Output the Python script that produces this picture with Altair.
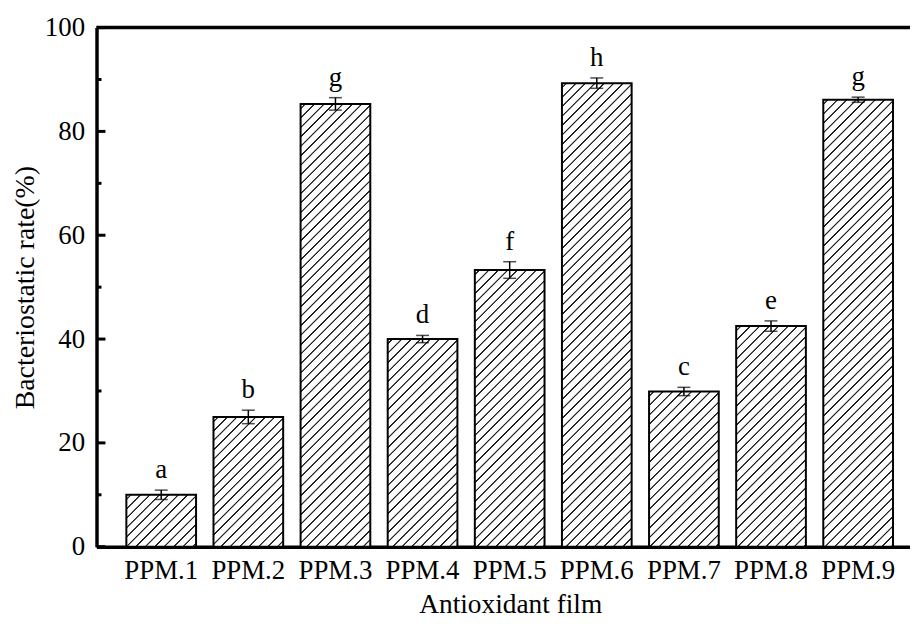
import altair as alt
import pandas as pd

# ---- data ----
films = ["PPM.1", "PPM.2", "PPM.3", "PPM.4", "PPM.5", "PPM.6", "PPM.7", "PPM.8", "PPM.9"]
rates = [10.0, 25.0, 85.3, 40.0, 53.3, 89.3, 29.9, 42.5, 86.1]
errors = [0.9, 1.3, 1.2, 0.7, 1.6, 1.0, 0.8, 1.0, 0.5]
letters = ["a", "b", "g", "d", "f", "h", "c", "e", "g"]
major_ticks = [0, 20, 40, 60, 80, 100]
minor_ticks = [10, 30, 50, 70, 90]

# ---- layout / style ----
FONT = "Liberation Serif"
W, H = 818, 522
PAD_IN, PAD_OUT, ALIGN = 0.2, 0.269, 0.637
STEP = W / (len(films) - PAD_IN + 2 * PAD_OUT)
BAR_W = STEP * (1 - PAD_IN)

df = pd.DataFrame({"film": films, "rate": rates, "err": errors, "letter": letters})
df["lo"] = df["rate"] - df["err"]
df["hi"] = df["rate"] + df["err"]

xscale = alt.Scale(domain=films, paddingInner=PAD_IN, paddingOuter=PAD_OUT,
                   align=ALIGN, round=False)
yscale = alt.Scale(domain=[0, 100], nice=False, zero=True)

xaxis = alt.Axis(title="Antioxidant film", labelAngle=0, ticks=False, tickSize=0,
                 domainWidth=3.5, domainColor="black", grid=False,
                 labelFont=FONT, labelFontSize=27, labelColor="black",
                 labelPadding=32, labelBaseline="alphabetic",
                 titleFont=FONT, titleFontSize=27.5, titleFontWeight="normal",
                 titleColor="black", titleX=416, titleY=66,
                 titleBaseline="alphabetic", titleAlign="center")
yaxis = alt.Axis(title="Bacteriostatic rate(%)", values=major_ticks, ticks=False,
                 tickSize=0, domainWidth=3.5, domainColor="black", grid=False,
                 labelFont=FONT, labelFontSize=27, labelColor="black",
                 labelPadding=12,
                 titleFont=FONT, titleFontSize=28, titleFontWeight="normal",
                 titleColor="black", titleAngle=270, titleX=-63, titleY=H / 2,
                 titleBaseline="alphabetic", titleAlign="center")


def xenc():
    return alt.X("film:N", sort=films, scale=xscale, axis=xaxis)


def yenc(field="rate"):
    return alt.Y(f"{field}:Q", scale=yscale, axis=yaxis)


def hatch(h_px, w_px, spacing=9.5, half=0.6, soft=0.6, ink="#222222"):
    """Diagonal '/' hatch as a linear gradient (bounding-box units)."""
    L = w_px + h_px
    k = L / (w_px ** 2 + h_px ** 2)
    stops = [(0.0, "#ffffff")]
    c = spacing / 2
    while c - half - soft < L:
        for off, col in [(c - half - soft, "#ffffff"), (c - half, ink),
                         (c + half, ink), (c + half + soft, "#ffffff")]:
            o = min(max(off / L, 0.0), 1.0)
            o = max(o, stops[-1][0])
            stops.append((round(o, 6), col))
        c += spacing
    stops.append((1.0, "#ffffff"))
    return alt.LinearGradient(
        gradient="linear",
        stops=[alt.GradientStop(offset=o, color=col) for o, col in stops],
        x1=0, y1=0, x2=k * w_px, y2=k * h_px)


layers = []
for f, r in zip(films, rates):
    layers.append(
        alt.Chart(df).transform_filter(alt.datum.film == f)
        .mark_bar(fill=hatch(r * H / 100.0, BAR_W), stroke="black", strokeWidth=2)
        .encode(x=xenc(), y=yenc("rate"))
    )

err_rule = alt.Chart(df).mark_rule(color="black", strokeWidth=1.5).encode(
    x=xenc(), y=yenc("lo"), y2="hi:Q")
cap_lo = alt.Chart(df).mark_tick(color="black", thickness=1.5, size=13).encode(
    x=xenc(), y=yenc("lo"))
cap_hi = alt.Chart(df).mark_tick(color="black", thickness=1.5, size=13).encode(
    x=xenc(), y=yenc("hi"))
labels = alt.Chart(df).mark_text(font=FONT, fontSize=27, color="black",
                                 baseline="alphabetic", dy=-12).encode(
    x=xenc(), y=yenc("hi"), text="letter:N")

tick_major = alt.Chart(pd.DataFrame({"rate": major_ticks})).mark_rule(
    color="black", strokeWidth=3).encode(x=alt.value(0), x2=alt.value(9), y=yenc("rate"))
tick_minor = alt.Chart(pd.DataFrame({"rate": minor_ticks})).mark_rule(
    color="black", strokeWidth=3).encode(x=alt.value(0), x2=alt.value(5), y=yenc("rate"))
top_border = alt.Chart(pd.DataFrame({"rate": [100]})).mark_rule(
    color="black", strokeWidth=3.5).encode(x=alt.value(0), x2=alt.value(W), y=yenc("rate"))

chart = alt.layer(*layers, err_rule, cap_lo, cap_hi, labels,
                  tick_major, tick_minor, top_border).properties(
    width=W, height=H,
    padding={"left": 89, "top": 18, "right": 0, "bottom": 71},
    autosize=alt.AutoSizeParams(type="none"),
    background="white",
).configure_view(stroke=None)

chart.save("out.html", embed_options={"renderer": "svg", "actions": False})
